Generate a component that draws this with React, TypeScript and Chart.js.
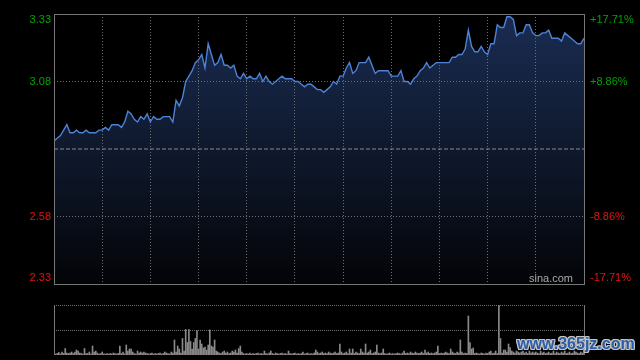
import React, { useEffect, useRef } from "react";
import { Chart, registerables } from "chart.js";

Chart.register(...registerables);

// ---- data ----
const prevClose = 2.83;
const priceMin = 2.33;
const priceMax = 3.33;
const priceTicks = [2.33, 2.58, 2.83, 3.08, 3.33];
const priceTickLabels = ["2.33", "2.58", "", "3.08", "3.33"];
const pctTickLabels = ["-17.71%", "-8.86%", "", "+8.86%", "+17.71%"];
const sessionMinutes = 330;
const timeTicks = [0, 30, 60, 90, 120, 150, 180, 210, 240, 270, 300, 330];
const priceStep = 2; // minutes between price samples

const prices = [
  2.86, 2.87, 2.88, 2.90, 2.92, 2.89, 2.89, 2.90, 2.89, 2.89,
  2.90, 2.89, 2.89, 2.89, 2.90, 2.90, 2.91, 2.90, 2.92, 2.92,
  2.92, 2.91, 2.93, 2.97, 2.96, 2.94, 2.93, 2.95, 2.94, 2.96,
  2.93, 2.95, 2.94, 2.94, 2.95, 2.95, 2.95, 2.93, 3.01, 2.99,
  3.02, 3.08, 3.10, 3.12, 3.15, 3.16, 3.18, 3.13, 3.22, 3.18,
  3.14, 3.15, 3.18, 3.14, 3.14, 3.13, 3.14, 3.10, 3.09, 3.11,
  3.09, 3.10, 3.09, 3.09, 3.11, 3.08, 3.10, 3.08, 3.07, 3.08,
  3.09, 3.10, 3.09, 3.09, 3.09, 3.08, 3.08, 3.07, 3.06, 3.07,
  3.07, 3.06, 3.05, 3.05, 3.04, 3.05, 3.06, 3.08, 3.07, 3.10,
  3.10, 3.13, 3.15, 3.11, 3.12, 3.15, 3.15, 3.15, 3.17, 3.14,
  3.11, 3.12, 3.12, 3.12, 3.12, 3.10, 3.10, 3.10, 3.12, 3.08,
  3.08, 3.07, 3.09, 3.10, 3.12, 3.13, 3.15, 3.13, 3.14, 3.15,
  3.15, 3.15, 3.15, 3.15, 3.17, 3.17, 3.18, 3.18, 3.20, 3.27,
  3.21, 3.19, 3.19, 3.21, 3.19, 3.18, 3.22, 3.22, 3.29, 3.28,
  3.28, 3.32, 3.32, 3.31, 3.25, 3.26, 3.26, 3.29, 3.29, 3.26,
  3.25, 3.25, 3.26, 3.26, 3.27, 3.24, 3.24, 3.24, 3.23, 3.26,
  3.25, 3.24, 3.23, 3.22, 3.22, 3.24,
];

const volumeMax = 100;
const volumeTicks = [50, 100];
const volumes = [
  26, 2, 3, 5, 2, 6, 3, 13, 4, 3,
  4, 6, 3, 6, 10, 8, 4, 3, 2, 13,
  3, 3, 6, 2, 18, 6, 8, 4, 2, 3,
  6, 2, 2, 3, 2, 3, 2, 4, 3, 2,
  3, 18, 3, 6, 2, 20, 8, 12, 12, 6,
  3, 2, 8, 4, 6, 4, 6, 4, 3, 2,
  3, 4, 2, 3, 2, 3, 4, 2, 3, 6,
  4, 3, 2, 6, 4, 30, 6, 18, 12, 4,
  33, 8, 51, 25, 51, 27, 12, 25, 33, 49,
  12, 30, 22, 14, 16, 10, 20, 50, 18, 16,
  30, 8, 6, 4, 3, 6, 8, 4, 6, 3,
  4, 8, 6, 10, 4, 13, 18, 6, 3, 2,
  3, 2, 4, 2, 3, 2, 3, 4, 2, 3,
  2, 8, 3, 2, 4, 8, 3, 2, 4, 3,
  2, 3, 4, 2, 3, 2, 8, 3, 2, 3,
  4, 2, 3, 2, 3, 6, 2, 3, 4, 2,
  3, 2, 4, 10, 6, 3, 4, 6, 3, 4,
  3, 6, 4, 3, 4, 6, 3, 4, 22, 6,
  3, 4, 6, 3, 12, 4, 12, 3, 6, 4,
  3, 12, 6, 4, 22, 4, 6, 10, 3, 4,
  6, 20, 4, 3, 4, 12, 3, 2, 3, 4,
  2, 3, 2, 3, 4, 3, 2, 4, 8, 3,
  4, 3, 6, 4, 3, 6, 4, 3, 4, 6,
  3, 10, 4, 6, 3, 4, 3, 4, 6, 18,
  3, 4, 3, 4, 6, 4, 3, 12, 6, 4,
  3, 6, 4, 30, 6, 3, 4, 3, 78, 25,
  12, 14, 3, 4, 3, 2, 4, 3, 2, 4,
  3, 6, 8, 3, 4, 8, 3, 100, 33, 4,
  10, 10, 6, 22, 15, 8, 6, 4, 8, 6,
  4, 6, 8, 4, 6, 3, 8, 4, 6, 4,
  6, 4, 3, 8, 4, 6, 3, 4, 6, 3,
  4, 8, 3, 6, 4, 3, 6, 4, 8, 3,
  4, 6, 3, 4, 8, 6, 4, 3, 6, 4,
  10,
];

// ---- styles ----
const UP = "#00a400";
const DOWN = "#e01414";
const GRID = "#6e6e6e";
const FRAME = "#777777";
const FONT = "11px 'Liberation Sans', Arial, sans-serif";

const framePlugin = {
  id: "frame",
  afterDraw(chart: any) {
    const { ctx, chartArea } = chart;
    const { left, top, right, bottom } = chartArea;
    ctx.save();
    ctx.strokeStyle = FRAME;
    ctx.lineWidth = 1;
    ctx.setLineDash([]);
    ctx.strokeRect(left + 0.5, top + 0.5, right - left, bottom - top);
    ctx.restore();
  },
};

const labelPlugin = {
  id: "labels",
  afterDraw(chart: any) {
    const { ctx, chartArea } = chart;
    const y = chart.scales.y;
    ctx.save();
    ctx.font = FONT;
    ctx.textBaseline = "middle";
    priceTicks.forEach((v, i) => {
      if (!priceTickLabels[i]) return;
      let py = y.getPixelForValue(v);
      if (i === priceTicks.length - 1) py += 6;
      if (i === 0) py -= 6;
      ctx.fillStyle = v > prevClose ? UP : DOWN;
      ctx.textAlign = "right";
      ctx.fillText(priceTickLabels[i], chartArea.left - 3, py);
      ctx.textAlign = "left";
      ctx.fillText(pctTickLabels[i], chartArea.right + 6, py);
    });
    ctx.fillStyle = "#a8a8a8";
    ctx.textAlign = "right";
    ctx.font = "11px 'Liberation Sans', Arial, sans-serif";
    ctx.fillText("sina.com", chartArea.right - 11, chartArea.bottom - 5);
    ctx.restore();
  },
};

const volFramePlugin = {
  id: "volframe",
  afterDraw(chart: any) {
    const { ctx, chartArea } = chart;
    const { left, top, right, bottom } = chartArea;
    ctx.save();
    ctx.strokeStyle = FRAME;
    ctx.lineWidth = 1;
    ctx.beginPath();
    ctx.moveTo(left + 0.5, top);
    ctx.lineTo(left + 0.5, bottom);
    ctx.moveTo(right + 0.5, top);
    ctx.lineTo(right + 0.5, bottom);
    ctx.stroke();
    ctx.restore();
  },
};

export default function App() {
  const mainRef = useRef<HTMLCanvasElement>(null);
  const volRef = useRef<HTMLCanvasElement>(null);

  useEffect(() => {
    const priceData = prices.map((p, i) => ({ x: i * priceStep, y: p }));
    const prevData = [
      { x: 0, y: prevClose },
      { x: sessionMinutes, y: prevClose },
    ];
    const main = new Chart(mainRef.current as HTMLCanvasElement, {
      type: "line",
      data: {
        datasets: [
          {
            data: priceData,
            borderColor: "#4c82d8",
            borderWidth: 1.4,
            pointRadius: 0,
            tension: 0,
            order: 1,
            fill: "start",
            backgroundColor: (c: any) => {
              const area = c.chart.chartArea;
              if (!area) return "rgba(20,34,62,1)";
              const g = c.chart.ctx.createLinearGradient(0, area.top, 0, area.bottom);
              g.addColorStop(0, "rgb(26,44,82)");
              g.addColorStop(0.5, "rgb(15,25,45)");
              g.addColorStop(1, "rgb(3,4,7)");
              return g;
            },
          },
          {
            data: prevData,
            borderColor: "#8c8c8c",
            borderWidth: 1,
            borderDash: [4, 2],
            pointRadius: 0,
            fill: false,
            order: 0,
          },
        ] as any,
      },
      options: {
        animation: false,
        responsive: false,
        maintainAspectRatio: false,
        layout: { padding: { top: 14, bottom: 6, left: 0, right: 56 } },
        plugins: {
          legend: { display: false },
          tooltip: { enabled: false },
          filler: { drawTime: "beforeDraw" },
        } as any,
        scales: {
          x: {
            type: "linear",
            min: 0,
            max: sessionMinutes,
            offset: false,
            afterBuildTicks: (s: any) => {
              s.ticks = timeTicks.map((v) => ({ value: v }));
            },
            ticks: { display: false },
            grid: { color: GRID, drawTicks: false, lineWidth: 1 },
            border: { display: false, dash: [1, 2] },
            afterFit: (s: any) => {
              s.height = 0;
            },
          },
          y: {
            type: "linear",
            position: "left",
            min: priceMin,
            max: priceMax,
            afterBuildTicks: (s: any) => {
              s.ticks = priceTicks.map((v) => ({ value: v }));
            },
            ticks: { display: false },
            grid: {
              color: (c: any) => (c.tick && c.tick.value === prevClose ? "rgba(0,0,0,0)" : GRID),
              drawTicks: false,
              lineWidth: 1,
            },
            border: { display: false, dash: [1, 2] },
            afterFit: (s: any) => {
              s.width = 54;
            },
          },
        },
      } as any,
      plugins: [framePlugin, labelPlugin],
    });

    const volData = volumes.map((v, i) => ({ x: i, y: v }));
    const vol = new Chart(volRef.current as HTMLCanvasElement, {
      type: "bar",
      data: {
        datasets: [
          {
            data: volData,
            backgroundColor: "#8a8a8a",
            barThickness: 1,
            borderWidth: 0,
            grouped: false,
          },
        ] as any,
      },
      options: {
        animation: false,
        responsive: false,
        maintainAspectRatio: false,
        layout: { padding: { top: 15, bottom: 5, left: 0, right: 56 } },
        plugins: { legend: { display: false }, tooltip: { enabled: false } },
        scales: {
          x: {
            type: "linear",
            display: false,
            offset: false,
            min: 0,
            max: sessionMinutes,
          },
          y: {
            type: "linear",
            min: 0,
            max: volumeMax,
            afterBuildTicks: (s: any) => {
              s.ticks = volumeTicks.map((v) => ({ value: v }));
            },
            ticks: { display: false },
            grid: { color: GRID, drawTicks: false, lineWidth: 1 },
            border: { display: false, dash: [1, 1] },
            afterFit: (s: any) => {
              s.width = 54;
            },
          },
        },
      } as any,
      plugins: [volFramePlugin],
    });

    return () => {
      main.destroy();
      vol.destroy();
    };
  }, []);

  return (
    <div
      style={{
        position: "fixed",
        left: 0,
        top: 0,
        width: 640,
        height: 360,
        background: "#000",
        overflow: "hidden",
      }}
    >
      <canvas
        ref={mainRef}
        width={640}
        height={290}
        style={{ position: "absolute", left: 0, top: 0, width: 640, height: 290 }}
      />
      <canvas
        ref={volRef}
        width={640}
        height={70}
        style={{ position: "absolute", left: 0, top: 290, width: 640, height: 70 }}
      />
      <div
        style={{
          position: "absolute",
          left: 517,
          top: 335,
          font: "bold 16px 'Liberation Sans', Arial, sans-serif",
          color: "#2c5ca4",
          letterSpacing: 0,
          textShadow:
            "1px 0 #c4c4c4, -1px 0 #c4c4c4, 0 1px #c4c4c4, 0 -1px #c4c4c4, 1px 1px #c4c4c4, -1px -1px #c4c4c4, 1px -1px #c4c4c4, -1px 1px #c4c4c4",
          whiteSpace: "nowrap",
          lineHeight: "18px",
        }}
      >
        www.365jz.com
      </div>
    </div>
  );
}
